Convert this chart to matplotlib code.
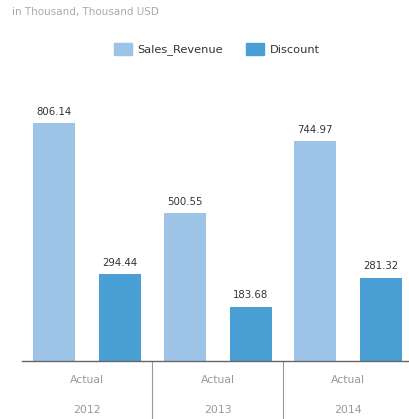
import matplotlib.pyplot as plt
from matplotlib.patches import Patch
import numpy as np

years = ['2012', '2013', '2014']
scenario = ['Actual', 'Actual', 'Actual']
sales_revenue = [806.14, 500.55, 744.97]
discount = [294.44, 183.68, 281.32]

c_sales = '#9dc3e6'
c_disc = '#4a9fd5'

plt.rcParams['font.family'] = ['DejaVu Sans']

fig = plt.figure(figsize=(4.10, 4.19), dpi=100)
ax = fig.add_axes([22 / 410, 58 / 419, 391.5 / 410, 281 / 419])

x = np.arange(len(years))
off, w = 0.253, 0.32
b1 = ax.bar(x - off, sales_revenue, w, color=c_sales)
b2 = ax.bar(x + off, discount, w, color=c_disc)
for bars, vals in ((b1, sales_revenue), (b2, discount)):
    for b, v in zip(bars, vals):
        ax.text(b.get_x() + b.get_width() / 2, v + 22, f'{v:.2f}',
                ha='center', va='bottom', fontsize=7.3, color='#333333')

ax.set_xlim(-0.5, 2.5)
ax.set_ylim(0, 952)
for s in ('top', 'right', 'left'):
    ax.spines[s].set_visible(False)
ax.spines['bottom'].set_color('#666666')
ax.spines['bottom'].set_linewidth(1)
ax.set_xticks([])
ax.set_yticks([])

# group separators and category labels
for xs in (0.5, 1.5):
    ax.plot([xs, xs], [0, -0.21], color='#999999', lw=0.8,
            transform=ax.get_xaxis_transform(), clip_on=False)
for i in x:
    ax.text(i, -0.068, scenario[i], ha='center', va='center', fontsize=7.8,
            color='#999999', transform=ax.get_xaxis_transform())
    ax.text(i, -0.174, years[i], ha='center', va='center', fontsize=7.8,
            color='#999999', transform=ax.get_xaxis_transform())

fig.text(12 / 410, 1 - 12 / 419, 'in Thousand, Thousand USD', ha='left',
         va='center', fontsize=7.5, color='#aaaaaa')

handles = [Patch(color=c_sales, label='Sales_Revenue'),
           Patch(color=c_disc, label='Discount')]
fig.legend(handles=handles, loc='center', bbox_to_anchor=(217 / 410, 1 - 49 / 419),
           ncol=2, frameon=False, fontsize=8.2, handlelength=1.6, handleheight=1.3,
           columnspacing=2.0, handletextpad=0.5, labelcolor='#333333')

fig.savefig('out.png', dpi=100)
